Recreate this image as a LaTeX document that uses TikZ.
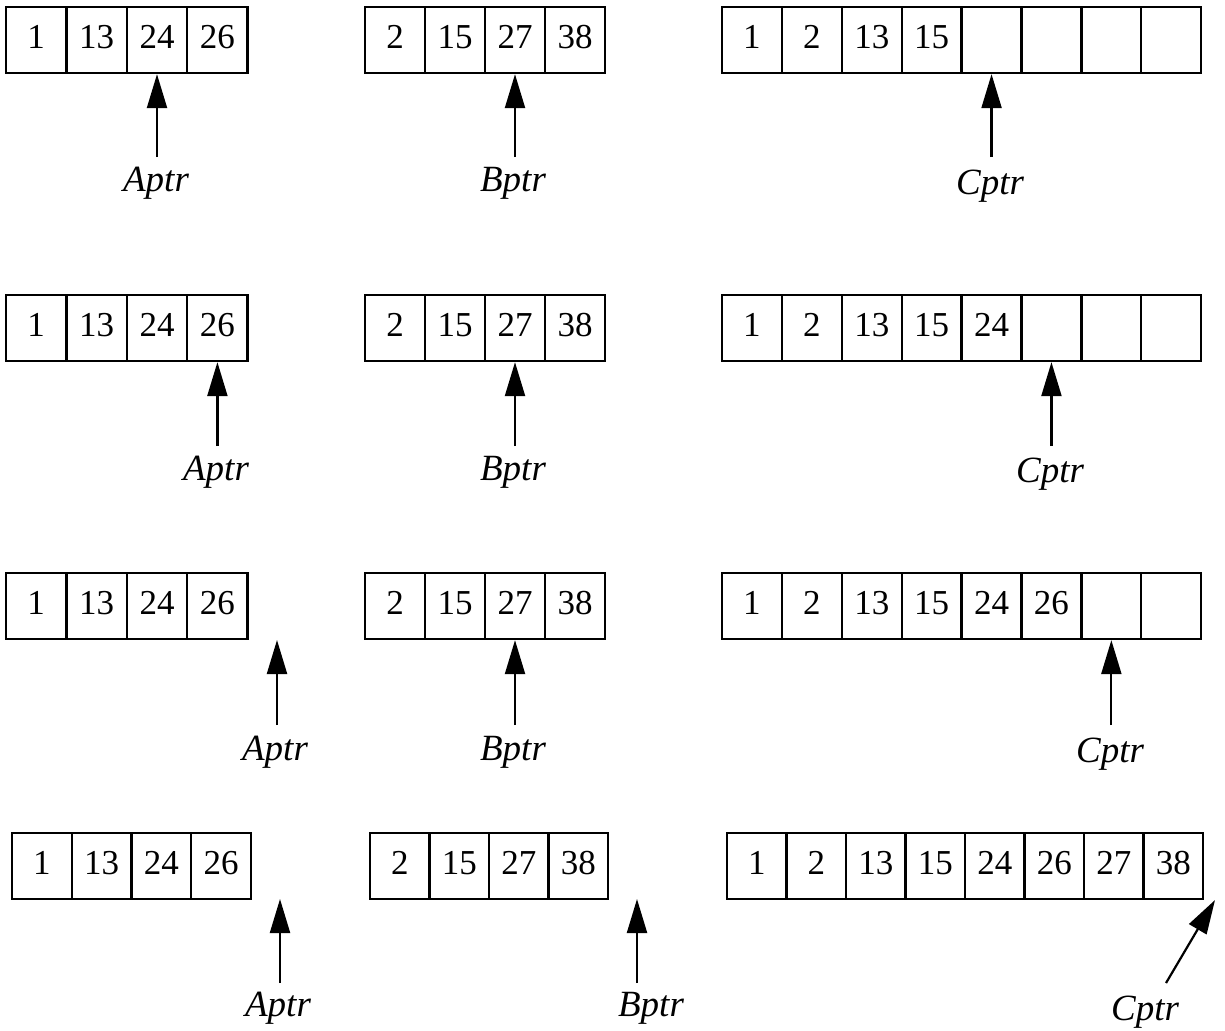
\documentclass[tikz,border=0pt]{standalone}
\usepackage{fontspec}
\setmainfont{Liberation Serif}
\usetikzlibrary{arrows.meta}
\newcommand{\mkcells}[5]{% name, left x, top y, cell width (px), values
  \foreach \v [count=\i] in {#5} {
    \node[cellbox, minimum width=#4*0.5pt] (#1-\i) at ({#2+(\i-0.5)*#4},{#3+33}) {\v};
  }%
}
\begin{document}
\begin{tikzpicture}[x=0.5pt,y=-0.5pt,
  cellbox/.style={draw, line width=1.15pt, rectangle, inner sep=0pt, minimum height=33pt,
    text height=12pt, text depth=4pt, font=\fontsize{17.5}{20}\selectfont},
  lab/.style={anchor=base, inner sep=0pt, font=\fontsize{18.5}{21}\selectfont\itshape},
  ptr/.style={line width=1.1pt, -{Triangle[length=17pt,width=10pt]}}]
\useasboundingbox (0,0) rectangle (1225,1030);
% Row 1
\mkcells{a1}{6}{7}{60.4}{1,13,24,26}
\mkcells{b1}{365}{7}{60}{2,15,27,38}
\mkcells{c1}{722}{7}{59.9}{1,2,13,15,{},{},{},{}}
% Row 2
\mkcells{a2}{6}{295}{60.4}{1,13,24,26}
\mkcells{b2}{365}{295}{60}{2,15,27,38}
\mkcells{c2}{722}{295}{59.9}{1,2,13,15,24,{},{},{}}
% Row 3
\mkcells{a3}{6}{573}{60.4}{1,13,24,26}
\mkcells{b3}{365}{573}{60}{2,15,27,38}
\mkcells{c3}{722}{573}{59.9}{1,2,13,15,24,26,{},{}}
% Row 4
\mkcells{a4}{12}{833}{59.75}{1,13,24,26}
\mkcells{b4}{370}{833}{59.5}{2,15,27,38}
\mkcells{c4}{727}{833}{59.5}{1,2,13,15,24,26,27,38}

% Row 1 pointers
\coordinate (ta1) at (a1-3.south |- 0,157);
\coordinate (tb1) at (b1-3.south |- 0,157);
\coordinate (tc1) at (c1-5.south |- 0,157);
\draw[ptr] (ta1) -- (a1-3.south);
\draw[ptr] (tb1) -- (b1-3.south);
\draw[ptr] (tc1) -- (c1-5.south);
\node[lab] (la1) at (156,191) {Aptr};
\node[lab] (lb1) at (513,191) {Bptr};
\node[lab] (lc1) at (990,194) {Cptr};

% Row 2 pointers
\coordinate (ta2) at (a2-4.south |- 0,446);
\coordinate (tb2) at (b2-3.south |- 0,446);
\coordinate (tc2) at (c2-6.south |- 0,446);
\draw[ptr] (ta2) -- (a2-4.south);
\draw[ptr] (tb2) -- (b2-3.south);
\draw[ptr] (tc2) -- (c2-6.south);
\node[lab] (la2) at (216,480) {Aptr};
\node[lab] (lb2) at (513,480) {Bptr};
\node[lab] (lc2) at (1050,482) {Cptr};

% Row 3 pointers
\coordinate (pa3) at (277,640);
\coordinate (ta3) at (277,725);
\coordinate (tb3) at (b3-3.south |- 0,725);
\coordinate (tc3) at (c3-7.south |- 0,725);
\draw[ptr] (ta3) -- (pa3);
\draw[ptr] (tb3) -- (b3-3.south);
\draw[ptr] (tc3) -- (c3-7.south);
\node[lab] (la3) at (275,760) {Aptr};
\node[lab] (lb3) at (513,760) {Bptr};
\node[lab] (lc3) at (1110,762) {Cptr};

% Row 4 pointers
\coordinate (pa4) at (280,899);
\coordinate (ta4) at (280,983);
\coordinate (pb4) at (637,899);
\coordinate (tb4) at (637,983);
\coordinate (pc4) at (1215,900);
\coordinate (tc4) at (1166,983);
\draw[ptr] (ta4) -- (pa4);
\draw[ptr] (tb4) -- (pb4);
\draw[ptr] (tc4) -- (pc4);
\node[lab] (la4) at (278,1016) {Aptr};
\node[lab] (lb4) at (651,1016) {Bptr};
\node[lab] (lc4) at (1145,1020) {Cptr};
\end{tikzpicture}
\end{document}
